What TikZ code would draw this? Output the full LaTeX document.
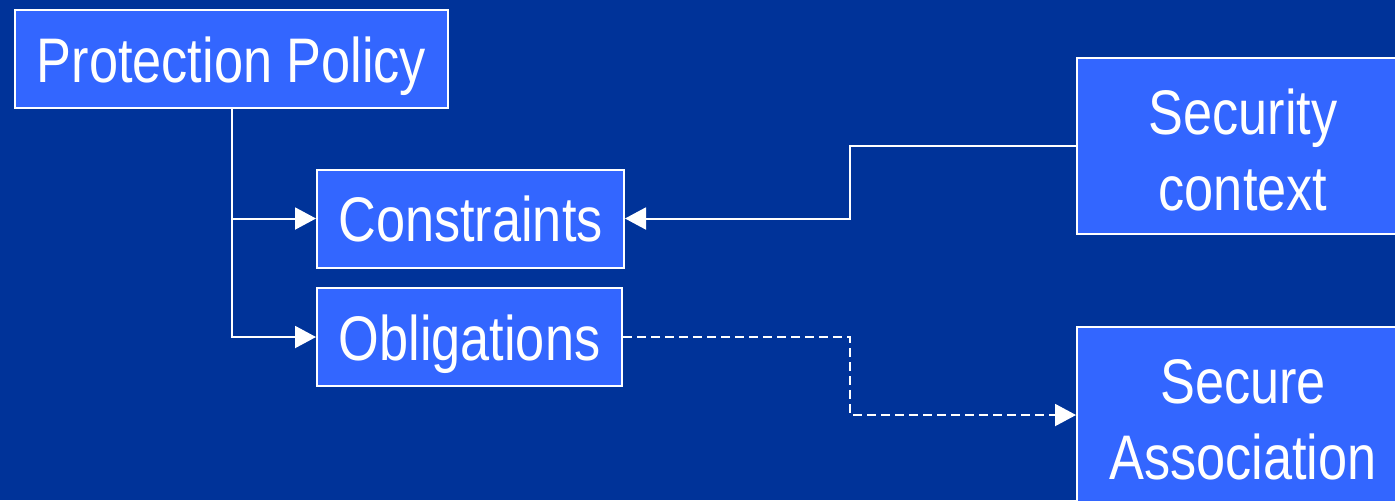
\documentclass[tikz,border=0pt]{standalone}
\usepackage{fontspec}
\setmainfont[FakeStretch=0.83]{Liberation Sans}
\usetikzlibrary{arrows.meta}
\definecolor{slidebg}{HTML}{003399}
\definecolor{boxfill}{HTML}{3366FF}
% strut that fixes the height of a box's first text line
\newcommand{\firstline}{\rule{0pt}{27pt}}
\begin{document}
\begin{tikzpicture}[x=0.5pt,y=-0.5pt,
  box/.style={draw=white, line width=1pt, fill=boxfill, text=white,
    align=center, inner sep=0pt,
    font=\fontsize{31.5}{38}\selectfont},
  % fixed line extents, so that one-line text sits on the same baseline in every box
  onebox/.style={box, minimum height=49pt,
    execute at begin node={\rule{0pt}{30pt}},
    execute at end node={\rule[-7pt]{0pt}{0pt}}},
  twobox/.style={box, minimum width=166pt, minimum height=88pt},
  link/.style={draw=white, line width=1pt,
    -{Triangle[length=10.5pt,width=11pt]}, white},
  dashlink/.style={link, dash pattern=on 4.5pt off 2.5pt}]
  % slide background and picture frame
  \fill[slidebg] (0,0) rectangle (1395,500);
  \useasboundingbox (0,0) rectangle (1395,500);

  % boxes
  \node[onebox, minimum width=216.5pt] (pp) at (231.5,59) {Protection Policy};
  \node[onebox, minimum width=153.5pt] (co) at (470.5,218.5) {Constraints};
  \node[onebox, minimum width=152.5pt] (ob) at (469.5,337) {Obligations};
  \node[twobox] (sc) at (1243,146) {\firstline Security\\context};
  \node[twobox] (sa) at (1243,415) {\firstline Secure\\Association};

  % column where the right-hand connectors turn
  \coordinate (jx) at (850,0);

  % policy branches into constraints and obligations
  \draw[link] (pp.south) -- (pp.south |- ob.west) -- (ob.west);
  \draw[link] (pp.south |- co.west) -- (co.west);

  % security context feeds the constraints
  \draw[link] (sc.west) -- (sc.west -| jx) -- (jx |- co.east) -- (co.east);

  % obligations lead to the secure association
  \draw[dashlink] (ob.east) -- (ob.east -| jx) -- (jx |- sa.west) -- (sa.west);
\end{tikzpicture}
\end{document}
